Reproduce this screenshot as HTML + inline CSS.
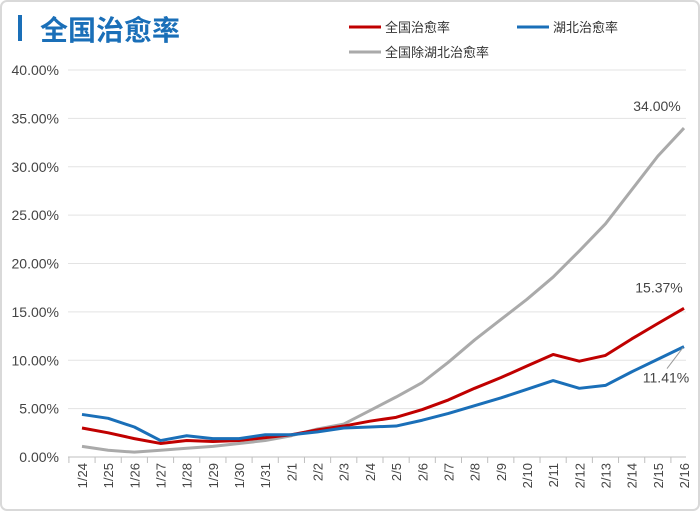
<!DOCTYPE html>
<html><head><meta charset="utf-8"><style>
body{margin:0;background:#fff;}
#wrap{position:relative;width:700px;height:511px;overflow:hidden;}
svg text{font-family:"Liberation Sans","Noto Sans CJK SC",sans-serif;}
</style></head><body>
<div id="wrap">
<svg id="c" width="700" height="511">
<rect x="1" y="1" width="698" height="509" rx="6" fill="#fff" stroke="#d9d9d9" stroke-width="2"/>
<rect x="18" y="15" width="4" height="26" fill="#1a6fb8"/>
<text x="40" y="40" font-size="28" font-weight="bold" fill="#1a6fb8">全国治愈率</text>
<g>
<line x1="349" y1="27" x2="381" y2="27" stroke="#c00000" stroke-width="3"/>
<text x="385" y="32" font-size="13" fill="#333">全国治愈率</text>
<line x1="517" y1="27" x2="549" y2="27" stroke="#1a6fb8" stroke-width="3"/>
<text x="553" y="32" font-size="13" fill="#333">湖北治愈率</text>
<line x1="349" y1="52" x2="381" y2="52" stroke="#aaaaaa" stroke-width="3"/>
<text x="385" y="57" font-size="13" fill="#333">全国除湖北治愈率</text>
</g>
</svg>
</div>
<script>
const categories=["1/24","1/25","1/26","1/27","1/28","1/29","1/30","1/31","2/1","2/2","2/3","2/4","2/5","2/6","2/7","2/8","2/9","2/10","2/11","2/12","2/13","2/14","2/15","2/16"];
const nationalValues=[3.0,2.5,1.9,1.4,1.7,1.6,1.7,2.0,2.3,2.8,3.2,3.7,4.1,4.9,5.9,7.1,8.2,9.4,10.6,9.9,10.5,12.2,13.8,15.37];
const hubeiValues=[4.4,4.0,3.1,1.7,2.2,1.9,1.9,2.3,2.3,2.6,3.0,3.1,3.2,3.8,4.5,5.3,6.1,7.0,7.9,7.1,7.4,8.8,10.1,11.41];
const nonHubeiValues=[1.1,0.7,0.5,0.7,0.9,1.1,1.4,1.7,2.2,2.9,3.4,4.8,6.2,7.7,9.8,12.1,14.2,16.3,18.6,21.3,24.1,27.6,31.1,34.0];
const yTicks=[0,5,10,15,20,25,30,35,40];
const NS="http://www.w3.org/2000/svg";
const svg=document.getElementById('c');
const x0=82,x1=684,yb=457,yt=70,ymax=40;
function xs(i){return x0+(x1-x0)*i/(categories.length-1);}
function ys(v){return yb-(yb-yt)*v/ymax;}
function mk(t,a){const e=document.createElementNS(NS,t);for(const k in a)e.setAttribute(k,a[k]);svg.appendChild(e);return e;}
yTicks.forEach(v=>{
 const l=mk('line',{x1:68,x2:686,y1:ys(v),y2:ys(v),stroke:v===0?'#bfbfbf':'#e3e3e3','stroke-width':1});
 
 
 const t=mk('text',{x:59,y:ys(v)+5,'font-size':14,fill:'#444','text-anchor':'end'});
 t.textContent=v.toFixed(2)+'%';
 
 
});
categories.forEach((c,i)=>{
 const tk=mk('line',{x1:xs(i)-13.1,x2:xs(i)-13.1,y1:yb,y2:yb+6,stroke:'#bfbfbf'});
 
 
 const t=mk('text',{x:0,y:0,'font-size':13,fill:'#444','text-anchor':'end',transform:`translate(${xs(i)+5},${yb+6}) rotate(-90)`});
 t.textContent=c;
 
 
});
function line(vals,color,name){
 const p=mk('polyline',{points:vals.map((v,i)=>xs(i)+','+ys(v)).join(' '),fill:'none',stroke:color,'stroke-width':3,'stroke-linejoin':'round'});
 
 
}
line(nonHubeiValues,'#aaaaaa','series-non-hubei');
line(nationalValues,'#c00000','series-national');
line(hubeiValues,'#1a6fb8','series-hubei');
const n=categories.length-1;
function lab(v,x,y,name){const t=mk('text',{x:x,y:y,'font-size':14,fill:'#444','text-anchor':'middle'});t.textContent=v.toFixed(2)+'%';}
lab(nonHubeiValues[n],657,ys(nonHubeiValues[n])-17,'label-non-hubei-last');
lab(nationalValues[n],659,ys(nationalValues[n])-16,'label-national-last');
lab(hubeiValues[n],666,ys(hubeiValues[n])+36,'label-hubei-last');
const ll=mk('line',{x1:xs(n)-1,y1:ys(hubeiValues[n])+1,x2:667,y2:ys(hubeiValues[n])+22,stroke:'#999999'});


</script>
</body></html>
